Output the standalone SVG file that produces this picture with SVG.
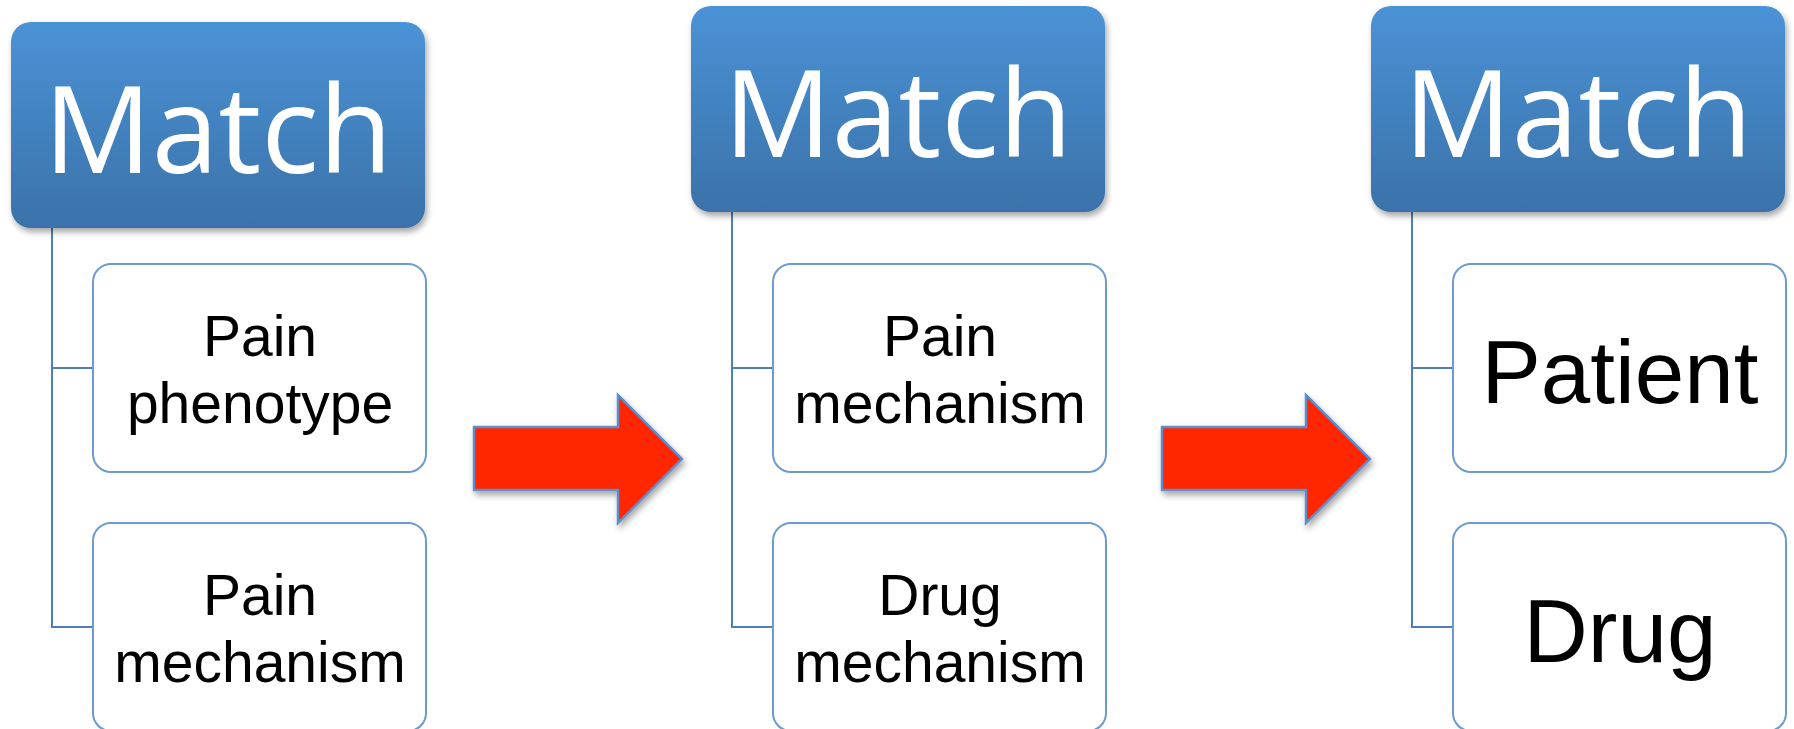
<svg xmlns="http://www.w3.org/2000/svg" width="1794" height="729" viewBox="0 0 1794 729">
<defs>
<linearGradient id="hdrGrad" x1="0" y1="0" x2="0" y2="1">
<stop offset="0" stop-color="#4a92d6"/>
<stop offset="1" stop-color="#3a72a9"/>
</linearGradient>
<filter id="shadow" x="-10%" y="-10%" width="125%" height="130%">
<feDropShadow dx="2" dy="4" stdDeviation="3" flood-color="#000" flood-opacity="0.35"/>
</filter>
</defs>
<style>
.hdr{fill:url(#hdrGrad);filter:url(#shadow);}
.hdrText{font-family:"Open Sans","Liberation Sans",sans-serif;font-size:120px;fill:#ffffff;text-anchor:middle;}
.child{fill:#ffffff;stroke:#6b9bd0;stroke-width:2;}
.childText{font-family:"Liberation Sans",Arial,sans-serif;font-size:57px;fill:#000000;text-anchor:middle;}
.bigText{font-family:"Liberation Sans",Arial,sans-serif;font-size:89px;fill:#000000;text-anchor:middle;}
.conn{fill:none;stroke:#4f7fb6;stroke-width:2;}
.arrow{fill:#ff2600;stroke:#5b8fcc;stroke-width:2.5;filter:url(#shadow);}
</style>
<rect width="1794" height="729" fill="#ffffff"/>
<g id="connectors">
<path class="conn" d="M52 228 V627 H93 M52 368 H93"/>
<path class="conn" d="M732 212 V627 H773 M732 368 H773"/>
<path class="conn" d="M1412 212 V627 H1453 M1412 368 H1453"/>
</g>
<g id="header1">
<rect class="hdr" x="11" y="22" width="414" height="206" rx="20"/>
<text class="hdrText" x="218" y="173">Match</text>
</g>
<g id="child1a">
<rect class="child" x="93" y="264" width="333" height="208" rx="18"/>
<text class="childText" x="260" y="356">Pain</text>
<text class="childText" x="260" y="423">phenotype</text>
</g>
<g id="child1b">
<rect class="child" x="93" y="523" width="333" height="208" rx="18"/>
<text class="childText" x="260" y="615">Pain</text>
<text class="childText" x="260" y="682">mechanism</text>
</g>
<g id="arrow1">
<polygon class="arrow" points="474,427 618,427 618,395 682,459 618,523 618,490 474,490"/>
</g>
<g id="header2">
<rect class="hdr" x="691" y="6" width="414" height="206" rx="20"/>
<text class="hdrText" x="898" y="157">Match</text>
</g>
<g id="child2a">
<rect class="child" x="773" y="264" width="333" height="208" rx="18"/>
<text class="childText" x="940" y="356">Pain</text>
<text class="childText" x="940" y="423">mechanism</text>
</g>
<g id="child2b">
<rect class="child" x="773" y="523" width="333" height="208" rx="18"/>
<text class="childText" x="940" y="615">Drug</text>
<text class="childText" x="940" y="682">mechanism</text>
</g>
<g id="arrow2">
<polygon class="arrow" points="1162,427 1306,427 1306,395 1370,459 1306,523 1306,490 1162,490"/>
</g>
<g id="header3">
<rect class="hdr" x="1371" y="6" width="414" height="206" rx="20"/>
<text class="hdrText" x="1578" y="157">Match</text>
</g>
<g id="child3a">
<rect class="child" x="1453" y="264" width="333" height="208" rx="18"/>
<text class="bigText" x="1620" y="403">Patient</text>
</g>
<g id="child3b">
<rect class="child" x="1453" y="523" width="333" height="208" rx="18"/>
<text class="bigText" x="1620" y="662">Drug</text>
</g>
</svg>
